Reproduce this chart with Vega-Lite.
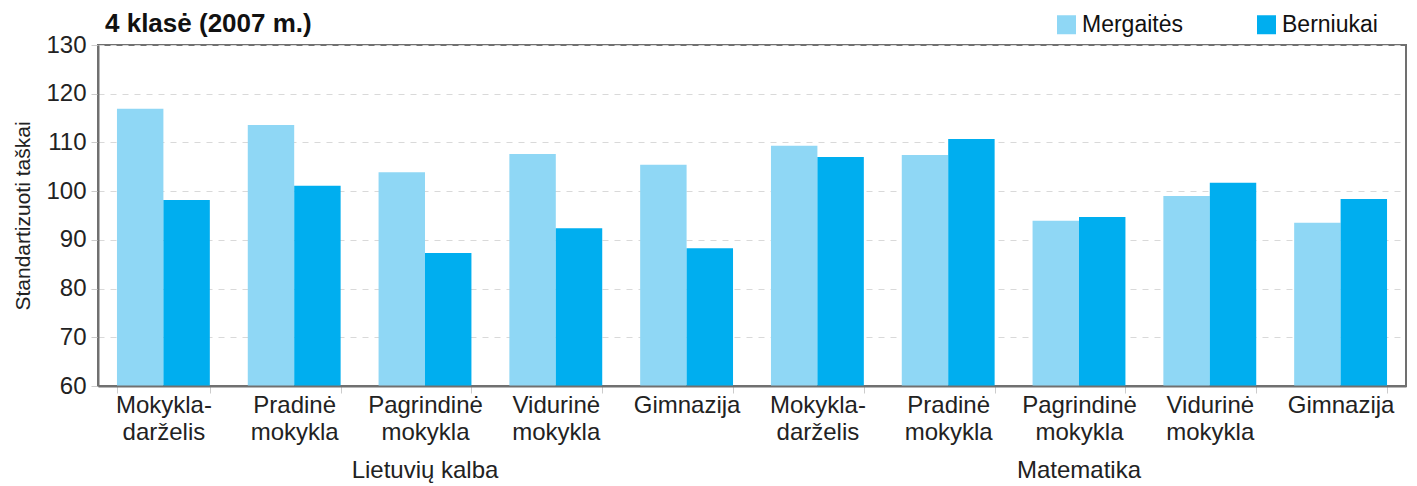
{
  "$schema": "https://vega.github.io/schema/vega-lite/v6.json",
  "autosize": {"type": "none"},
  "width": 1308,
  "height": 341,
  "padding": {"left": 98, "top": 45, "right": 11, "bottom": 100},
  "background": "white",
  "config": {
    "font": "Liberation Sans",
    "view": {"stroke": "#707070", "strokeWidth": 2},
    "axis": {"labelFont": "Liberation Sans", "titleFont": "Liberation Sans", "labelColor": "#222", "titleColor": "#222"}
  },
  "title": {
    "text": "4 klasė (2007 m.)",
    "anchor": "start",
    "frame": "group",
    "fontSize": 26,
    "fontWeight": "bold",
    "color": "#111",
    "dx": 7,
    "dy": 5,
    "offset": -19
  },
  "datasets": {
    "bars": [
      {"cat": "L1|Mokykla-|darželis", "series": "Mergaitės", "value": 116.9},
      {"cat": "L1|Mokykla-|darželis", "series": "Berniukai", "value": 98.2},
      {"cat": "L2|Pradinė|mokykla", "series": "Mergaitės", "value": 113.6},
      {"cat": "L2|Pradinė|mokykla", "series": "Berniukai", "value": 101.1},
      {"cat": "L3|Pagrindinė|mokykla", "series": "Mergaitės", "value": 103.9},
      {"cat": "L3|Pagrindinė|mokykla", "series": "Berniukai", "value": 87.3},
      {"cat": "L4|Vidurinė|mokykla", "series": "Mergaitės", "value": 107.6},
      {"cat": "L4|Vidurinė|mokykla", "series": "Berniukai", "value": 92.4},
      {"cat": "L5|Gimnazija", "series": "Mergaitės", "value": 105.4},
      {"cat": "L5|Gimnazija", "series": "Berniukai", "value": 88.3},
      {"cat": "M1|Mokykla-|darželis", "series": "Mergaitės", "value": 109.3},
      {"cat": "M1|Mokykla-|darželis", "series": "Berniukai", "value": 107.0},
      {"cat": "M2|Pradinė|mokykla", "series": "Mergaitės", "value": 107.4},
      {"cat": "M2|Pradinė|mokykla", "series": "Berniukai", "value": 110.7},
      {"cat": "M3|Pagrindinė|mokykla", "series": "Mergaitės", "value": 93.9},
      {"cat": "M3|Pagrindinė|mokykla", "series": "Berniukai", "value": 94.7},
      {"cat": "M4|Vidurinė|mokykla", "series": "Mergaitės", "value": 99.0},
      {"cat": "M4|Vidurinė|mokykla", "series": "Berniukai", "value": 101.7},
      {"cat": "M5|Gimnazija", "series": "Mergaitės", "value": 93.5},
      {"cat": "M5|Gimnazija", "series": "Berniukai", "value": 98.4}
    ],
    "groups": [
      {"cat": "L3|Pagrindinė|mokykla", "label": "Lietuvių kalba", "base": 60},
      {"cat": "M3|Pagrindinė|mokykla", "label": "Matematika", "base": 60}
    ]
  },
  "layer": [
    {
      "data": {"name": "bars"},
      "mark": {"type": "bar", "clip": true},
      "encoding": {
        "x": {
          "field": "cat",
          "type": "nominal",
          "sort": null,
          "scale": {"paddingInner": 0.29, "paddingOuter": 0.145},
          "axis": {
            "title": null,
            "labelAngle": 0,
            "labelExpr": "slice(split(datum.value, '|'), 1)",
            "labelFontSize": 24,
            "labelLineHeight": 27,
            "labelPadding": 0,
            "labelBaseline": "top",
            "tickBand": "extent",
            "tickColor": "#cccccc",
            "tickSize": 7,
            "domainColor": "#707070",
            "domainWidth": 2,
            "zindex": 1
          }
        },
        "xOffset": {"field": "series", "type": "nominal", "sort": ["Mergaitės", "Berniukai"]},
        "y": {
          "field": "value",
          "type": "quantitative",
          "scale": {"domain": [60, 130], "nice": false, "zero": false},
          "axis": {
            "title": "Standartizuoti taškai",
            "titleFontSize": 21,
            "titleFontWeight": "normal",
            "titlePadding": 12,
            "values": [60, 70, 80, 90, 100, 110, 120, 130],
            "labelFontSize": 24,
            "labelPadding": 5,
            "tickColor": "#cccccc",
            "tickSize": 7,
            "domainColor": "#707070",
            "domainWidth": 2,
            "grid": true,
            "gridColor": "#d9d9d9",
            "gridDash": [6, 6],
            "gridWidth": 1
          }
        },
        "color": {
          "field": "series",
          "type": "nominal",
          "sort": ["Mergaitės", "Berniukai"],
          "scale": {"domain": ["Mergaitės", "Berniukai"], "range": ["#8fd7f5", "#00aeef"]},
          "legend": {
            "title": null,
            "orient": "none",
            "legendX": 957,
            "legendY": -32,
            "direction": "horizontal",
            "symbolType": "square",
            "symbolSize": 361,
            "symbolStrokeWidth": 0,
            "labelFontSize": 23,
            "labelColor": "#111",
            "labelOffset": 4,
            "columnPadding": 72
          }
        }
      }
    },
    {
      "data": {"name": "groups"},
      "mark": {"type": "text", "fontSize": 24, "color": "#222", "baseline": "alphabetic", "dy": 92},
      "encoding": {
        "x": {"field": "cat", "type": "nominal", "sort": null},
        "y": {"field": "base", "type": "quantitative"},
        "text": {"field": "label"}
      }
    }
  ]
}
